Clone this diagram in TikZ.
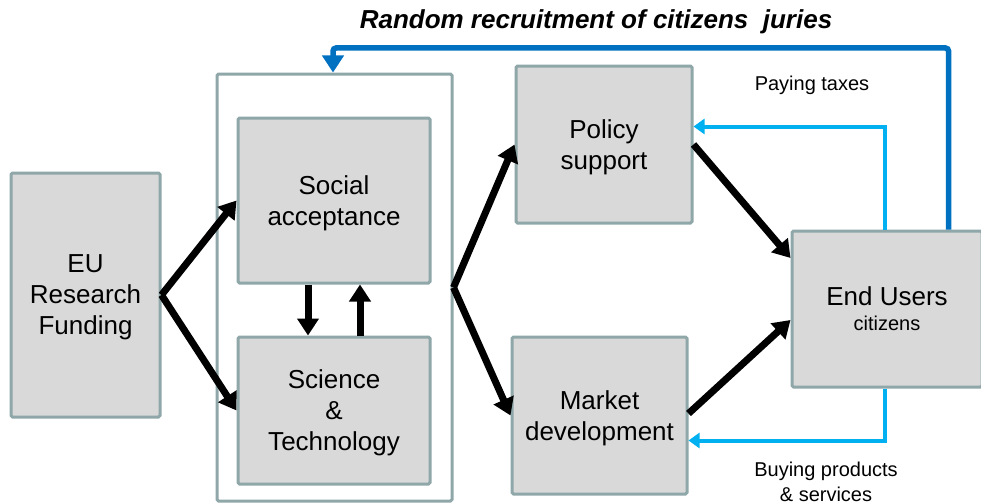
\documentclass[tikz,border=0pt]{standalone}
\usepackage{fontspec}
\setmainfont{Liberation Sans}
\usetikzlibrary{arrows.meta}
\definecolor{bordc}{HTML}{8FA7A9}
\definecolor{fillc}{HTML}{D9D9D9}
\definecolor{lblue}{HTML}{00B0F0}
\definecolor{dblue}{HTML}{0070C0}
\tikzset{
  box/.style={draw=bordc, line width=3pt, fill=fillc, rounded corners=1.5pt, align=center,
    inner sep=0pt, font=\fontsize{26}{31}\selectfont, text depth=-3pt},
  cont/.style={draw=bordc, line width=3pt, rounded corners=1.5pt, inner sep=0pt},
  blk/.style={line width=7pt, -{Triangle[length=17pt,width=21pt]}},
  lb/.style={draw=lblue, line width=4pt, -{Triangle[length=11pt,width=15pt]}},
  db/.style={draw=dblue, line width=5.5pt, rounded corners=3pt, -{Triangle[length=17pt,width=21pt]}},
  lbl/.style={font=\fontsize{20}{25}\selectfont, align=center}
}
\begin{document}
\begin{tikzpicture}[x=1pt,y=-1pt]
\useasboundingbox (0,0) rectangle (981,503);
\node[cont, minimum width=235pt, minimum height=427pt] (cont) at (334.5,287.5) {};
\node[box, minimum width=149pt, minimum height=244pt] (eu) at (85.5,295) {EU\\Research\\Funding};
\node[box, minimum width=192pt, minimum height=165pt] (soc) at (334,200.5) {Social\\acceptance};
\node[box, minimum width=192pt, minimum height=147pt] (sci) at (334,410.5) {Science\\\&\\Technology};
\node[box, minimum width=176pt, minimum height=157pt] (pol) at (604,144.5) {Policy\\support};
\node[box, minimum width=175pt, minimum height=157pt] (mkt) at (599.5,415.5) {Market\\development};
\node[box, minimum width=190pt, minimum height=156pt] (endu) at (887,309) {End Users\\[-6pt]{\fontsize{20}{24}\selectfont citizens}};
\node[font=\fontsize{26}{30}\selectfont\bfseries\itshape] (title) at (596,22) {Random recruitment of citizens\ \ juries};
\node[lbl] (tax) at (812,85) {Paying taxes};
\node[lbl] (buy) at (826,482) {Buying products\\\& services};
\coordinate (topc) at (333,48);
% black arrows
\draw[blk] (eu.east) -- (soc.west);
\draw[blk] (eu.east) -- (sci.west);
\draw[blk] ([xshift=-26pt]soc.south) -- ([xshift=-26pt]sci.north);
\draw[blk] ([xshift=26pt]sci.north) -- ([xshift=26pt]soc.south);
\draw[blk] (cont.east) -- (pol.west);
\draw[blk] (cont.east) -- (mkt.west);
\draw[blk] (pol.east) -- ([yshift=51pt]endu.west);
\draw[blk] ([yshift=2pt]mkt.east) -- ([yshift=-11pt]endu.west);
% light blue
\draw[lb] ([xshift=94pt]endu.north west) |- ([yshift=18pt]pol.east);
\draw[lb] ([xshift=94pt]endu.south west) |- ([yshift=-25pt]mkt.east);
% dark blue
\draw[db] ([xshift=158pt]endu.north west) |- (topc) -- (topc |- cont.north);
\end{tikzpicture}
\end{document}
